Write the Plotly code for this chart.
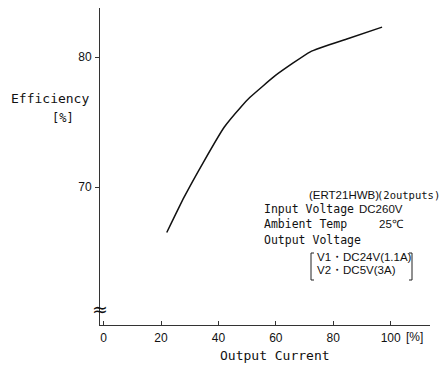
import plotly.graph_objects as go

# Data
output_current = [22, 28, 35, 42, 48, 51, 60, 72, 85, 97]
efficiency = [66.5, 69.2, 72.0, 74.6, 76.2, 76.9, 78.6, 80.4, 81.4, 82.3]
x_ticks = [0, 20, 40, 60, 80, 100]
y_ticks = [70, 80]

# page has an 8px body margin: figure starts at (8, 8) in the window
OFF = 8
W, H = 447 - OFF, 368 - OFF
ML, MR, MT, MB = 100 - OFF, 17, 8 - OFF, 43
XR = [-1.25, 113.7]
YR = [59.385, 83.77]

MONO = "DejaVu Sans Mono"
SANS = "Liberation Sans"
TXT = "#111111"

PW = W - ML - MR
PH = H - MT - MB


def px2x(px):
    return XR[0] + (px - OFF - ML) / PW * (XR[1] - XR[0])


def py2y(py):
    return YR[1] - (py - OFF - MT) / PH * (YR[1] - YR[0])


def pxp(px):
    return (px - OFF - ML) / PW


def pyp(py):
    return (H - MB - (py - OFF)) / PH


fig = go.Figure()
fig.add_trace(go.Scatter(x=output_current, y=efficiency, mode="lines",
                         line=dict(color="#111111", width=1.5, shape="spline", smoothing=0.4),
                         showlegend=False, hoverinfo="skip"))

fig.update_layout(
    width=W, height=H,
    margin=dict(l=ML, r=MR, t=MT, b=MB, autoexpand=False),
    paper_bgcolor="white", plot_bgcolor="white",
    font=dict(family=SANS, size=12, color=TXT),
    xaxis=dict(range=XR, tickvals=x_ticks, ticks="inside", ticklen=4, tickcolor="#333",
               showline=True, linecolor="#333", linewidth=1, showgrid=False, zeroline=False,
               automargin=False, ticklabelstandoff=2,
               tickfont=dict(family=SANS, size=12, color=TXT)),
    yaxis=dict(range=YR, tickvals=y_ticks, ticks="outside", ticklen=4, tickcolor="#333",
               showline=True, linecolor="#333", linewidth=1, showgrid=False, zeroline=False,
               automargin=False, ticklabelstandoff=1,
               tickfont=dict(family=SANS, size=12, color=TXT)),
)

ann = []


def add(text, px, py, family, size=12, xanchor="left"):
    ann.append(dict(text=text, x=pxp(px), y=pyp(py), xref="paper", yref="paper",
                    xanchor=xanchor, yanchor="middle", showarrow=False,
                    font=dict(family=family, size=size, color=TXT)))


add("Efficiency", 49.5, 98, MONO, 13, "center")
add("[%]", 62.5, 118, MONO, 12, "center")
add("Output Current", 275, 355, MONO, 13, "center")
add("[%]", 414, 337, SANS, 12, "center")
add("≈", 100, 309, "DejaVu Sans", 19, "center")

add("(ERT21HWB)", 307, 195, SANS, 11.5)
add("(2outputs)", 375, 195, MONO, 10.5)
add("Input Voltage", 262, 209, MONO, 11.5)
add("DC260V", 357, 209, SANS, 11.5)
add("Ambient Temp", 262, 224, MONO, 11.5)
add("25℃", 377, 224, SANS, 11.5)
add("Output Voltage", 262, 240, MONO, 11.5)
add("V1・DC24V(1.1A)", 315, 257, SANS, 11.5)
add("V2・DC5V(3A)", 315, 270, SANS, 11.5)

fig.update_layout(annotations=ann)

# brackets around V1/V2 lines
lb = f"M {px2x(314)} {py2y(253)} L {px2x(311)} {py2y(253)} L {px2x(311)} {py2y(280)} L {px2x(314)} {py2y(280)}"
rb = f"M {px2x(409)} {py2y(253)} L {px2x(412)} {py2y(253)} L {px2x(412)} {py2y(280)} L {px2x(409)} {py2y(280)}"
for p in (lb, rb):
    fig.add_shape(type="path", path=p, xref="x", yref="y",
                  line=dict(color="#222", width=1))

fig.write_html("out.html")
